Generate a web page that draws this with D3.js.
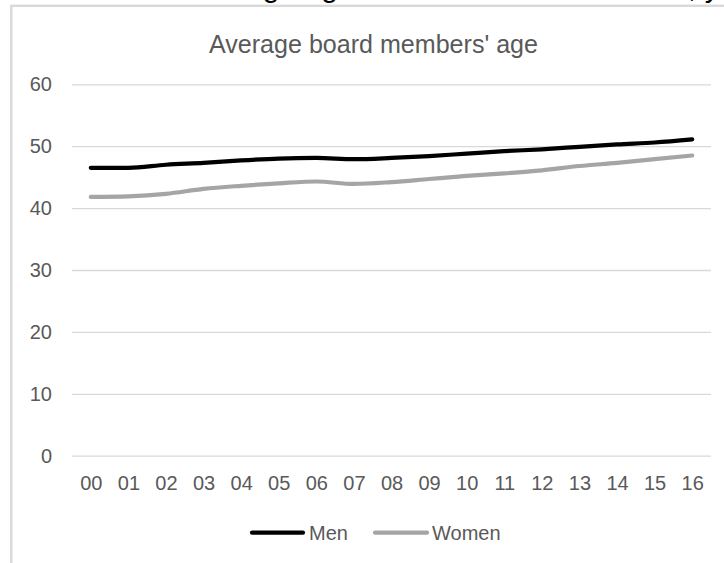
<!DOCTYPE html>
<meta charset="utf-8">
<script src="https://d3js.org/d3.v7.min.js"></script>
<style>
  body { margin: 0; background: #fff; }
  text { font-family: "Liberation Sans", Arial, sans-serif; }
</style>
<div id="chart"></div>
<script>

// data
var years = ["00","01","02","03","04","05","06","07","08","09","10","11","12","13","14","15","16"];
var men   = [46.5, 46.5, 47.0, 47.3, 47.7, 48.0, 48.1, 47.9, 48.1, 48.4, 48.8, 49.2, 49.5, 49.9, 50.3, 50.6, 51.1];
var women = [41.8, 41.9, 42.3, 43.1, 43.6, 44.0, 44.3, 43.9, 44.2, 44.7, 45.2, 45.6, 46.1, 46.8, 47.3, 47.9, 48.5];
var yTicks = [0, 10, 20, 30, 40, 50, 60];
var seriesNames = ["Men", "Women"];
var seriesColors = ["#000000", "#a5a5a5"];

var width = 724, height = 563;
var plot = {left: 72, right: 711, top: 84.3, bottom: 455.7};

var svg = d3.select("#chart")
  .append("svg")
    .attr("width", width)
    .attr("height", height);

// caption above the frame, mostly cut off
svg.append("text")
  .attr("x", 185)
  .attr("y", -3.3)
  .style("font-size", "30px")
  .attr("fill", "#000")
  .text("Average age of board members in EU, years 2000-2016");

// chart frame
svg.append("rect")
  .attr("x", 11.3)
  .attr("y", 5.8)
  .attr("width", 800)
  .attr("height", 700)
  .attr("fill", "#fff")
  .attr("stroke", "#d9d9d9")
  .attr("stroke-width", 2.4);

// title
svg.append("text")
  .attr("x", 373.5)
  .attr("y", 53)
  .attr("text-anchor", "middle")
  .attr("textLength", 329)
  .attr("lengthAdjust", "spacingAndGlyphs")
  .style("font-size", "25px")
  .attr("fill", "#595959")
  .text("Average board members' age");

var x = d3.scalePoint()
  .domain(years)
  .range([plot.left, plot.right])
  .padding(0.5);

var y = d3.scaleLinear()
  .domain([0, 60])
  .range([plot.bottom, plot.top]);

// Y axis with gridlines
var yAxis = svg.append("g")
  .attr("transform", "translate(" + plot.left + ",0)")
  .call(d3.axisLeft(y)
    .tickValues(yTicks)
    .tickSize(-(plot.right - plot.left))
    .tickPadding(20));
yAxis.select(".domain").remove();
yAxis.selectAll("line").attr("stroke", "#d9d9d9").attr("stroke-width", 1.3);
yAxis.selectAll("text")
  .style("font-size", "20px")
  .attr("fill", "#595959");

// X axis labels
var xAxis = svg.append("g")
  .attr("transform", "translate(0," + plot.bottom + ")")
  .call(d3.axisBottom(x).tickSize(0).tickPadding(20));
xAxis.select(".domain").remove();
xAxis.selectAll("text")
  .style("font-size", "20px")
  .attr("fill", "#595959");

// lines
var line = d3.line()
  .x(function(d, i) { return x(years[i]); })
  .y(function(d) { return y(d); })
  .curve(d3.curveMonotoneX);

[men, women].forEach(function(s, k) {
  svg.append("path")
    .datum(s)
    .attr("fill", "none")
    .attr("stroke", seriesColors[k])
    .attr("stroke-width", 4.2)
    .attr("stroke-linecap", "round")
    .attr("stroke-linejoin", "round")
    .attr("d", line);
});

// legend
var legendY = 532.7;
var legendItems = [{x1: 252, x2: 303, tx: 309}, {x1: 375, x2: 427, tx: 432}];
legendItems.forEach(function(p, k) {
  svg.append("line")
    .attr("x1", p.x1).attr("x2", p.x2)
    .attr("y1", legendY).attr("y2", legendY)
    .attr("stroke", seriesColors[k])
    .attr("stroke-width", 4.2)
    .attr("stroke-linecap", "round");
  svg.append("text")
    .attr("x", p.tx)
    .attr("y", legendY)
    .attr("dy", "0.35em")
    .style("font-size", "20px")
    .attr("fill", "#595959")
    .text(seriesNames[k]);
});

</script>
